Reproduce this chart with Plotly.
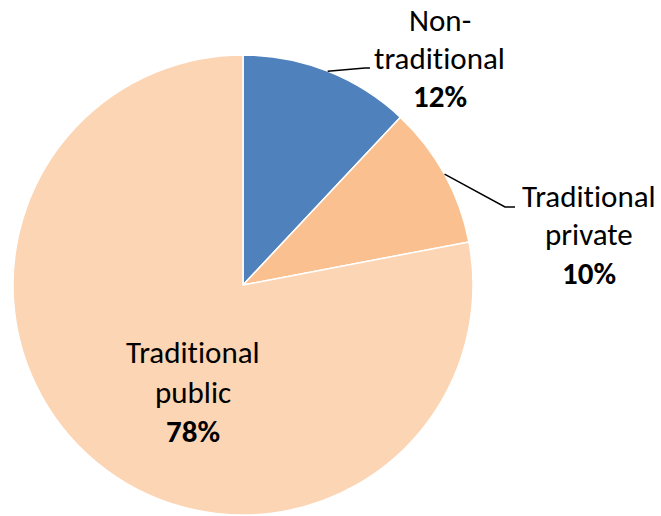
import math
import plotly.graph_objects as go

categories = ["Non-traditional", "Traditional private", "Traditional public"]
values = [12, 10, 78]
colors = ["#4F81BD", "#FAC090", "#FCD5B5"]
label_lines = [["Non-", "traditional"], ["Traditional", "private"], ["Traditional", "public"]]

W, H = 661, 516
CX, CY, R = 243, 285, 230  # pie centre / radius in pixels

def px(x):
    return x / W

def py(y):
    return 1 - y / H

fig = go.Figure(go.Pie(
    labels=categories,
    values=values,
    marker=dict(colors=colors, line=dict(color="white", width=1.5)),
    sort=False,
    direction="clockwise",
    rotation=0,
    textinfo="none",
    hoverinfo="label+percent",
    showlegend=False,
    domain=dict(x=[px(CX - R), px(CX + R)], y=[py(CY + R), py(CY - R)]),
))

FONT = "Carlito, Calibri, Lato, sans-serif"
SIZE = 31

# label layout: (centre x, first line y, line spacing)
label_pos = [(440, 20, 38), (589, 196, 38.5), (193, 352, 39.5)]
# leader line elbows (None = label inside)
elbows = [[(365, 68), (370, 68)], [(505, 207), (515, 207)], None]

def no_lig(t):
    # break the "ti" ligature
    return t.replace("ti", "t\u200ci")

annotations = []
shapes = []
total = sum(values)
cum = 0
for i, v in enumerate(values):
    mid = (cum + v / 2) / total * 2 * math.pi
    cum += v
    lx, ly, dy = label_pos[i]
    lines = [no_lig(s) for s in label_lines[i]] + [f"<b>{round(v / total * 100)}%</b>"]
    for k, t in enumerate(lines):
        annotations.append(dict(
            x=px(lx), y=py(ly + k * dy), xref="paper", yref="paper",
            text=t, showarrow=False, xanchor="center", yanchor="middle",
            font=dict(family=FONT, size=SIZE, color="black"),
        ))
    if elbows[i]:
        sx = CX + R * math.sin(mid)
        sy = CY - R * math.cos(mid)
        pts = [(sx, sy)] + elbows[i]
        path = "M " + " L ".join(f"{px(x)},{py(y)}" for x, y in pts)
        shapes.append(dict(type="path", path=path, xref="paper", yref="paper",
                           line=dict(color="black", width=1.5)))

fig.update_layout(
    width=W, height=H,
    margin=dict(l=0, r=0, t=0, b=0),
    paper_bgcolor="white",
    plot_bgcolor="white",
    annotations=annotations,
    shapes=shapes,
)

fig.write_html(
    "out.html",
    config={"displayModeBar": False},
    post_script="document.body.style.margin='0';document.body.style.overflow='hidden';",
)
